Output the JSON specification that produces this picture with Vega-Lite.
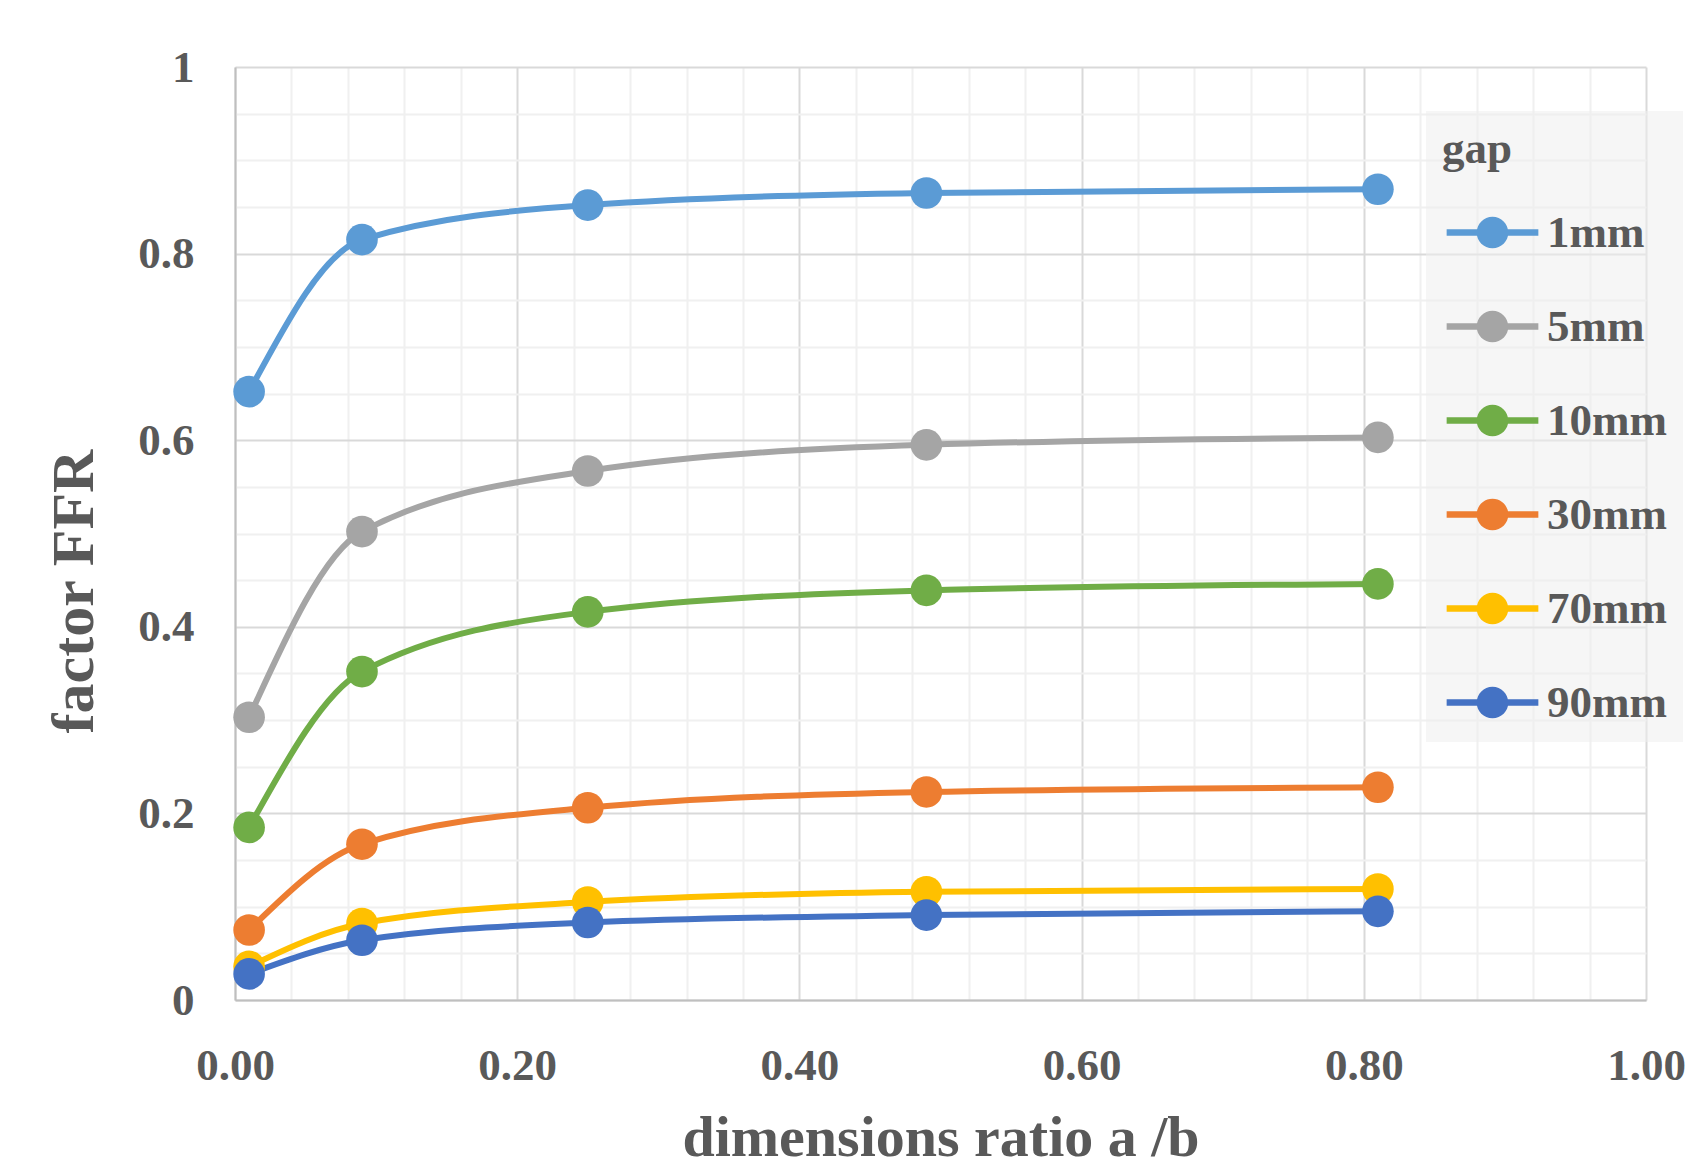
{
  "$schema": "https://vega.github.io/schema/vega-lite/v6.json",
  "width": 1411,
  "height": 933,
  "autosize": {"type": "none"},
  "padding": {"left": 235, "top": 67, "right": 48, "bottom": 170},
  "background": "white",
  "config": {
    "view": {"stroke": null},
    "font": "Liberation Serif"
  },
  "data": {
    "values": [
      {"ratio": 0.01, "F": 0.652, "gap": "1mm"},
      {"ratio": 0.09, "F": 0.815, "gap": "1mm"},
      {"ratio": 0.25, "F": 0.852, "gap": "1mm"},
      {"ratio": 0.49, "F": 0.865, "gap": "1mm"},
      {"ratio": 0.81, "F": 0.869, "gap": "1mm"},
      {"ratio": 0.01, "F": 0.303, "gap": "5mm"},
      {"ratio": 0.09, "F": 0.502, "gap": "5mm"},
      {"ratio": 0.25, "F": 0.567, "gap": "5mm"},
      {"ratio": 0.49, "F": 0.595, "gap": "5mm"},
      {"ratio": 0.81, "F": 0.603, "gap": "5mm"},
      {"ratio": 0.01, "F": 0.185, "gap": "10mm"},
      {"ratio": 0.09, "F": 0.352, "gap": "10mm"},
      {"ratio": 0.25, "F": 0.416, "gap": "10mm"},
      {"ratio": 0.49, "F": 0.439, "gap": "10mm"},
      {"ratio": 0.81, "F": 0.446, "gap": "10mm"},
      {"ratio": 0.01, "F": 0.075, "gap": "30mm"},
      {"ratio": 0.09, "F": 0.167, "gap": "30mm"},
      {"ratio": 0.25, "F": 0.206, "gap": "30mm"},
      {"ratio": 0.49, "F": 0.223, "gap": "30mm"},
      {"ratio": 0.81, "F": 0.228, "gap": "30mm"},
      {"ratio": 0.01, "F": 0.036, "gap": "70mm"},
      {"ratio": 0.09, "F": 0.082, "gap": "70mm"},
      {"ratio": 0.25, "F": 0.105, "gap": "70mm"},
      {"ratio": 0.49, "F": 0.116, "gap": "70mm"},
      {"ratio": 0.81, "F": 0.119, "gap": "70mm"},
      {"ratio": 0.01, "F": 0.028, "gap": "90mm"},
      {"ratio": 0.09, "F": 0.064, "gap": "90mm"},
      {"ratio": 0.25, "F": 0.083, "gap": "90mm"},
      {"ratio": 0.49, "F": 0.091, "gap": "90mm"},
      {"ratio": 0.81, "F": 0.095, "gap": "90mm"}
    ]
  },
  "encoding": {
    "x": {
      "field": "ratio",
      "type": "quantitative",
      "scale": {"domain": [0, 1], "nice": false, "zero": false},
      "axis": {
        "values": [0, 0.04, 0.08, 0.12, 0.16, 0.2, 0.24, 0.28, 0.32, 0.36, 0.4, 0.44, 0.48, 0.52, 0.56, 0.6, 0.64, 0.68, 0.72, 0.76, 0.8, 0.84, 0.88, 0.92, 0.96, 1.0],
        "ticks": false,
        "domainColor": "#BFBFBF",
        "domainWidth": 2,
        "gridColor": {"condition": {"test": "abs(datum.value*5 - round(datum.value*5)) < 0.001", "value": "#D9D9D9"}, "value": "#F0F0F0"},
        "gridWidth": 2,
        "labelExpr": "abs(datum.value*5 - round(datum.value*5)) < 0.001 ? format(datum.value, '.2f') : ''",
        "labelFont": "Liberation Serif",
        "labelFontSize": 45,
        "labelFontWeight": "bold",
        "labelColor": "#595959",
        "labelPadding": 43,
        "labelFlush": false,
        "labelOverlap": false,
        "title": "dimensions ratio a /b",
        "titleFont": "Liberation Serif",
        "titleFontSize": 58,
        "titleFontWeight": "bold",
        "titleColor": "#595959",
        "titleBaseline": "alphabetic",
        "titleY": 155
      }
    },
    "y": {
      "field": "F",
      "type": "quantitative",
      "scale": {"domain": [0, 1], "nice": false},
      "axis": {
        "values": [0, 0.05, 0.1, 0.15, 0.2, 0.25, 0.3, 0.35, 0.4, 0.45, 0.5, 0.55, 0.6, 0.65, 0.7, 0.75, 0.8, 0.85, 0.9, 0.95, 1.0],
        "ticks": false,
        "domainColor": "#BFBFBF",
        "domainWidth": 2,
        "gridColor": {"condition": {"test": "abs(datum.value*5 - round(datum.value*5)) < 0.001", "value": "#D9D9D9"}, "value": "#F0F0F0"},
        "gridWidth": 2,
        "labelExpr": "abs(datum.value*5 - round(datum.value*5)) < 0.001 ? (datum.value == 0 ? '0' : (datum.value == 1 ? '1' : format(datum.value, '.1f'))) : ''",
        "labelFont": "Liberation Serif",
        "labelFontSize": 45,
        "labelFontWeight": "bold",
        "labelColor": "#595959",
        "labelPadding": 41,
        "labelFlush": false,
        "labelOverlap": false,
        "title": "factor FFR",
        "titleFont": "Liberation Serif",
        "titleFontSize": 60,
        "titleFontWeight": "bold",
        "titleColor": "#595959",
        "titleBaseline": "alphabetic",
        "titleAlign": "center",
        "titleX": -143,
        "titleY": 524
      }
    },
    "color": {
      "field": "gap",
      "type": "nominal",
      "sort": ["1mm", "5mm", "10mm", "30mm", "70mm", "90mm"],
      "scale": {
        "domain": ["1mm", "5mm", "10mm", "30mm", "70mm", "90mm"],
        "range": ["#5B9BD5", "#A5A5A5", "#70AD47", "#ED7D31", "#FFC000", "#4472C4"]
      },
      "legend": {
        "orient": "none",
        "legendX": 1191,
        "legendY": 44,
        "title": "gap",
        "fillColor": "rgba(238,238,238,0.55)",
        "padding": 16,
        "titleFont": "Liberation Serif",
        "titleFontSize": 45,
        "titleFontWeight": "bold",
        "titleColor": "#595959",
        "titlePadding": 38,
        "labelFont": "Liberation Serif",
        "labelFontSize": 45,
        "labelFontWeight": "bold",
        "labelColor": "#595959",
        "symbolType": "M-2.9,-0.2H-0.9V0.2H-2.9Z M0.9,-0.2H2.9V0.2H0.9Z M-1,0A1,1 0 1,1 1,0A1,1 0 1,1 -1,0Z",
        "symbolSize": 1000,
        "symbolStrokeWidth": 0,
        "symbolOffset": 28,
        "labelOffset": 32,
        "rowPadding": 48,
        "encode": {
          "symbols": {"update": {"fill": {"scale": "color", "field": "value"}, "opacity": {"value": 1}, "strokeWidth": {"value": 0}}}
        }
      }
    }
  },
  "layer": [
    {
      "mark": {"type": "line", "interpolate": "monotone", "strokeWidth": 6}
    },
    {
      "mark": {"type": "point", "filled": true, "size": 1000, "opacity": 1}
    }
  ]
}
